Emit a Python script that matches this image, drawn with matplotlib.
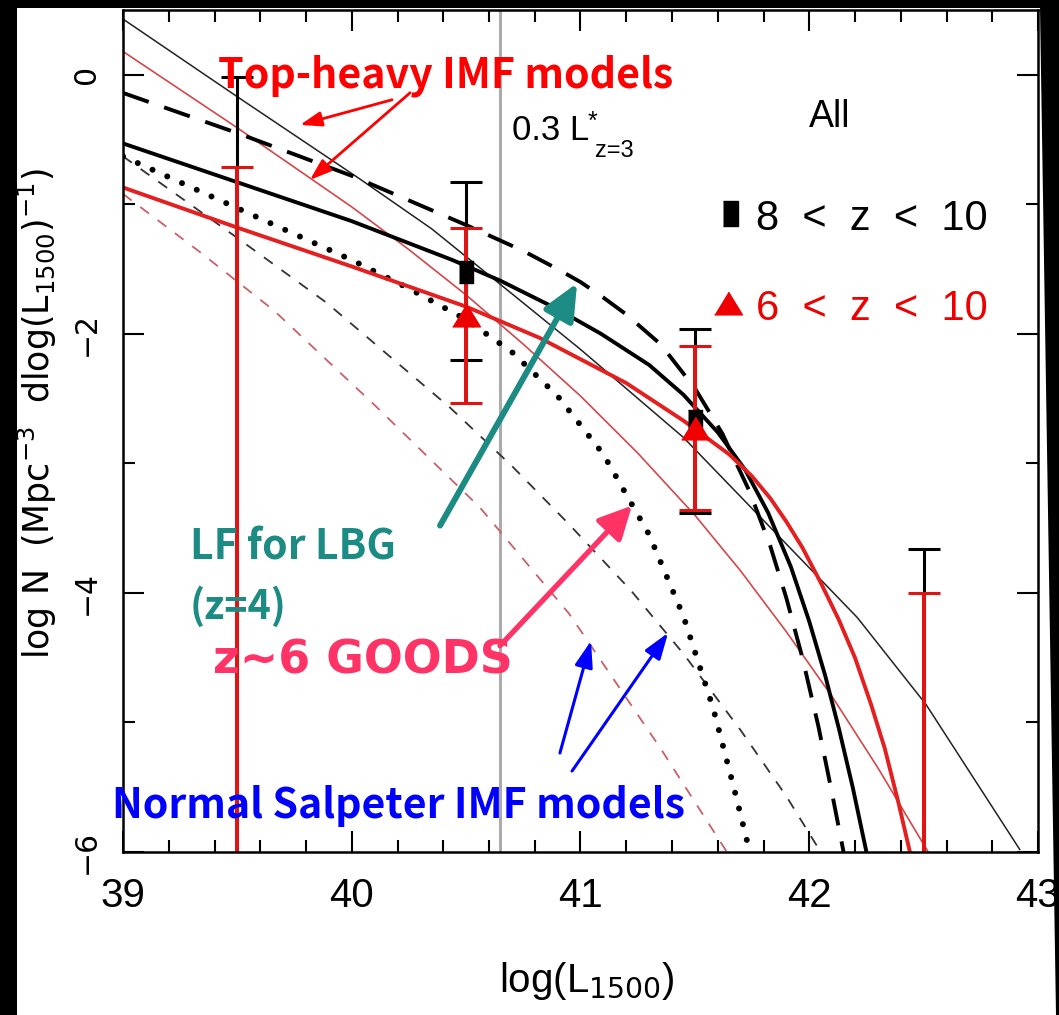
import numpy as np
import matplotlib
matplotlib.use("Agg")
import matplotlib.pyplot as plt
from matplotlib import font_manager as fm
from matplotlib.patches import Polygon

# ---------------------------------------------------------------- data
# model luminosity functions: log L1500 -> log N
thin_black_x = [39.0, 39.5, 40.04, 40.35, 40.63, 41.0, 41.45, 41.8, 42.21, 42.51, 42.92]
thin_black_y = [0.43, -0.17, -0.81, -1.19, -1.59, -2.12, -2.80, -3.44, -4.19, -4.86, -5.98]

thin_red_x = [39.0, 39.5, 40.0, 40.25, 40.5, 40.75, 41.0, 41.25, 41.5, 41.7, 41.9, 42.1, 42.3, 42.52]
thin_red_y = [0.18, -0.41, -1.02, -1.35, -1.70, -2.08, -2.48, -2.92, -3.40, -3.83, -4.30, -4.80, -5.35, -6.0]

lbg_x = [39.0, 39.5, 40.0, 40.5, 40.75, 40.9, 41.0, 41.1, 41.2, 41.35, 41.5, 41.62, 41.74,
         41.83, 41.9, 41.97, 42.04, 42.1, 42.15]
lbg_y = [-0.14, -0.45, -0.78, -1.16, -1.36, -1.50, -1.60, -1.72, -1.85, -2.08, -2.42, -2.77, -3.22,
         -3.64, -4.04, -4.50, -5.03, -5.55, -6.0]

fit_black_x = [39.0, 39.5, 40.0, 40.44, 40.65, 40.9, 41.09, 41.3, 41.45, 41.6, 41.72,
               41.82, 41.92, 42.0, 42.07, 42.13, 42.19, 42.25]
fit_black_y = [-0.53, -0.83, -1.13, -1.43, -1.59, -1.81, -2.0, -2.24, -2.47, -2.76, -3.05,
               -3.38, -3.80, -4.22, -4.64, -5.05, -5.5, -6.0]

fit_red_x = [39.0, 39.5, 40.0, 40.5, 40.82, 41.2, 41.45, 41.65, 41.75, 41.83, 41.9, 41.97,
             42.05, 42.13, 42.2, 42.27, 42.33, 42.39, 42.44]
fit_red_y = [-0.87, -1.18, -1.48, -1.79, -2.03, -2.38, -2.67, -2.93, -3.10, -3.27, -3.45, -3.65,
             -3.92, -4.21, -4.50, -4.86, -5.20, -5.62, -6.0]

goods_x = [39.0, 39.5, 40.0, 40.25, 40.5, 40.7, 40.9, 41.1, 41.3, 41.45, 41.58, 41.67, 41.74]
goods_y = [-0.63, -1.03, -1.43, -1.65, -1.89, -2.14, -2.48, -2.93, -3.55, -4.18, -4.89, -5.50, -6.0]

salp_black_x = [39.0, 39.5, 39.89, 40.43, 40.7, 40.95, 41.22, 41.45, 41.7, 41.9, 42.05]
salp_black_y = [-0.63, -1.26, -1.76, -2.57, -3.02, -3.47, -3.98, -4.47, -5.06, -5.57, -6.0]

salp_red_x = [39.0, 39.33, 39.66, 40.1, 40.56, 40.95, 41.35, 41.64]
salp_red_y = [-0.92, -1.36, -1.82, -2.55, -3.34, -4.16, -5.2, -6.0]

# binned measurements (bars reaching -7 run off the bottom of the plot)
bin_x = [39.5, 40.5, 41.5, 42.5]
z8_val = [np.nan, -1.52, -2.67, np.nan]
z8_hi = [-0.02, -0.83, -1.96, -3.66]
z8_lo = [-7.0, -2.20, -3.38, -7.0]
z6_val = [np.nan, -1.855, -2.73, np.nan]
z6_hi = [-0.71, -1.18, -2.09, -4.00]
z6_lo = [-7.0, -2.53, -3.36, -7.0]

l_star_x = 40.65

x_ticks = [39, 40, 41, 42, 43]
y_ticks = [0, -2, -4, -6]
y_minor = [-1, -3, -5]

# ---------------------------------------------------------------- fonts
names = {f.name for f in fm.fontManager.ttflist}
if "Liberation Sans Narrow" in names:
    NARROW = dict(family="Liberation Sans Narrow")
else:
    NARROW = dict(family="Liberation Sans", stretch="condensed")
WIDE = dict(family="DejaVu Sans")
BOLD = dict(family=["Noto Sans CJK JP", "DejaVu Sans"], weight="bold")
BOLD_WIDE = dict(family=["DejaVu Sans"], weight="bold")

plt.rcParams["mathtext.fontset"] = "dejavusans"
plt.rcParams["axes.unicode_minus"] = True

W, H = 1059, 1015
fig = plt.figure(figsize=(W / 100, H / 100), dpi=100, facecolor="black")
# white page inside the dark frame
page = [(17, 8), (1040, 8), (1056, 1015), (17, 1015)]
fig.add_artist(Polygon([(x / W, 1 - y / H) for x, y in page], closed=True,
                       transform=fig.transFigure, facecolor="white",
                       edgecolor="none", zorder=-10))

ax = fig.add_axes([123 / W, 1 - 852 / H, (1038 - 123) / W, (852 - 10) / H])
ax.set_zorder(1)
ax.set_facecolor("white")
ax.set_xlim(39, 43)
ax.set_ylim(-6, 0.5)

# ---------------------------------------------------------------- curves
ax.axvline(l_star_x, color="#ababab", lw=2.2, zorder=1)

ax.plot(thin_black_x, thin_black_y, color="#222222", lw=1.1, zorder=2)
ax.plot(thin_red_x, thin_red_y, color="#d4474a", lw=1.2, zorder=2)
ax.plot(salp_black_x, salp_black_y, color="#333333", lw=1.3,
        ls=(0, (6, 6)), zorder=2)
ax.plot(salp_red_x, salp_red_y, color="#c96068", lw=1.3,
        ls=(0, (6, 6)), zorder=2)
ax.plot(lbg_x, lbg_y, color="black", lw=2.8, ls=(0, (7, 4.2)), zorder=3)
ax.plot(goods_x, goods_y, color="black", lw=4.3, ls=(0, (0.01, 2.7)),
        dash_capstyle="round", zorder=3)
ax.plot(fit_black_x, fit_black_y, color="black", lw=2.8, zorder=3)
ax.plot(fit_red_x, fit_red_y, color="#e41f1f", lw=2.8, zorder=3)

# ---------------------------------------------------------------- measurements
def bars(lo, hi, color, lw, z):
    lo = np.asarray(lo)
    hi = np.asarray(hi)
    mid = (lo + hi) / 2
    ax.errorbar(bin_x, mid, yerr=[mid - lo, hi - mid], fmt="none",
                ecolor=color, elinewidth=lw, capsize=11.5, capthick=2.2,
                zorder=z)


bars(z8_lo, z8_hi, "black", 2.2, 4)
bars(z6_lo, z6_hi, "#dd1515", 2.9, 5)

tall_square = [(-0.3, -0.5), (0.3, -0.5), (0.3, 0.5), (-0.3, 0.5)]
triangle = [(-1.0, -0.82), (1.0, -0.82), (0.0, 0.82)]
ax.plot(bin_x, z8_val, ls="none", marker=tall_square, ms=16, color="black",
        zorder=6)
ax.plot(bin_x, z6_val, ls="none", marker=triangle, ms=20, color="#ee0000",
        zorder=7)

# ---------------------------------------------------------------- axes styling
for s in ax.spines.values():
    s.set_linewidth(1.8)
    s.set_zorder(8)
ax.set_xticks(x_ticks)
ax.set_xticks(np.arange(39, 43.001, 0.2), minor=True)
ax.set_yticks(y_ticks)
ax.set_yticks(y_minor, minor=True)
ax.tick_params(which="both", direction="in", top=True, right=True,
               width=1.5, color="black")
ax.tick_params(which="major", length=15)
ax.tick_params(which="minor", length=8.5)
ax.tick_params(axis="x", which="major", pad=18)
ax.tick_params(axis="y", which="major", pad=16)
ax.set_xticklabels([str(t) for t in x_ticks], fontsize=29, **NARROW)
ax.set_yticklabels(["\u2212" + str(-t) if t < 0 else str(t) for t in y_ticks],
                   rotation=90, va="center", fontsize=21.5, **WIDE)

ax.set_xlabel("log(L$_{1500}$)", fontsize=29, **NARROW)
ax.xaxis.set_label_coords(0.507, -0.128)
ax.set_ylabel("log N  (Mpc$^{-3}$  dlog(L$_{1500}$)$^{-1}$)", fontsize=25,
              **WIDE)
ax.yaxis.set_label_coords(-0.070, 0.52)

# ---------------------------------------------------------------- labels in panel
kw = dict(clip_on=False, zorder=9)
ax.text(42.0, -0.402, "All", fontsize=27, ha="left", va="baseline",
        **NARROW, **kw)
ax.text(40.70, -0.503, "0.3 L", fontsize=25, ha="left", va="baseline",
        **NARROW, **kw)
ax.text(41.033, -0.27, "*", fontsize=18, ha="left", va="top", **NARROW, **kw)
ax.text(41.063, -0.634, "z=3", fontsize=17, ha="left", va="baseline",
        **NARROW, **kw)

ax.plot([41.654], [-1.067], marker=tall_square, ms=18, color="black", **kw)
ax.text(42.781, -1.199, "8  <  z  <  10", fontsize=30, ha="right",
        va="baseline", color="black", **NARROW, **kw)
ax.plot([41.645], [-1.763], marker=triangle, ms=20, color="#ee0000", **kw)
ax.text(42.781, -1.895, "6  <  z  <  10", fontsize=30, ha="right",
        va="baseline", color="#ee0000", **NARROW, **kw)

# ---------------------------------------------------------------- annotations
def arrow(tail, tip, color, lw, scale, hl, hw):
    ax.annotate("", xy=tip, xytext=tail, annotation_clip=False, zorder=9,
                arrowprops=dict(arrowstyle=f"-|>,head_length={hl},head_width={hw}",
                                color=color, lw=lw, mutation_scale=scale,
                                shrinkA=0, shrinkB=0))


RED = "#ff0000"
TEAL = "#1b8b84"
PINK = "#ff3366"
BLUE = "#0000ff"

ax.text(39.415, -0.10, "Top-heavy IMF models", color=RED, fontsize=29.6,
        ha="left", va="baseline", **BOLD, **kw)
arrow((40.176, -0.193), (39.774, -0.387), RED, 2.0, 10, 1.3, 0.45)
arrow((40.255, -0.139), (39.817, -0.812), RED, 2.0, 10, 1.3, 0.45)

ax.text(39.293, -3.743, "LF for LBG", color=TEAL, fontsize=29.5,
        ha="left", va="baseline", **BOLD, **kw)
ax.text(39.293, -4.20, "(z=4)", color=TEAL, fontsize=28.5,
        ha="left", va="baseline", **BOLD, **kw)
arrow((40.386, -3.48), (40.985, -1.609), TEAL, 4.3, 20, 1.1, 0.5)

ax.text(39.393, -4.625, "z~6 GOODS", color=PINK, fontsize=33,
        ha="left", va="baseline", **BOLD_WIDE, **kw)
arrow((40.648, -4.408), (41.225, -3.326), PINK, 3.8, 20, 1.0, 0.5)

ax.text(38.952, -5.739, "Normal Salpeter IMF models", color=BLUE,
        fontsize=29.6, ha="left", va="baseline", **BOLD, **kw)
arrow((40.910, -5.236), (41.046, -4.370), BLUE, 2.2, 10, 1.6, 0.55)
arrow((40.963, -5.375), (41.383, -4.308), BLUE, 2.2, 10, 1.6, 0.55)

fig.savefig("out.png", dpi=100, facecolor="black")
